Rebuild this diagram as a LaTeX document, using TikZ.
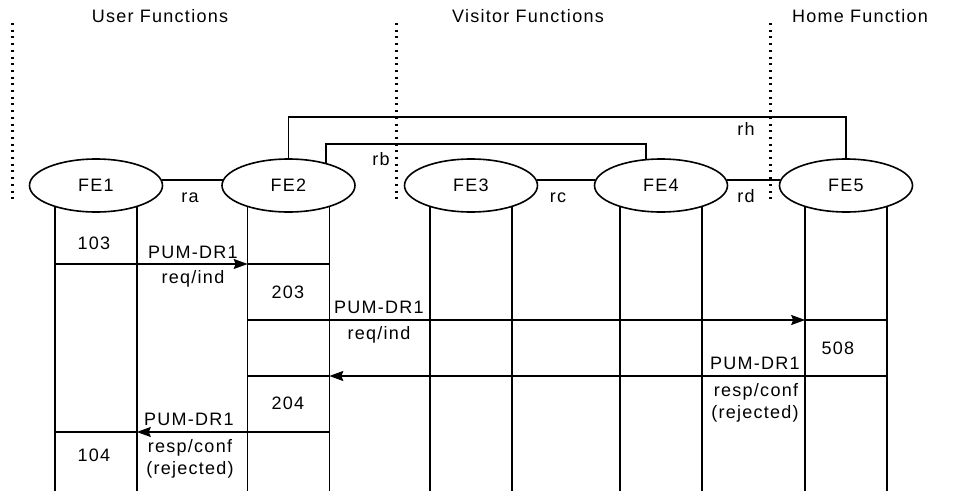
\documentclass[tikz,border=0pt]{standalone}
\usepackage{fontspec}
\setmainfont{Liberation Sans}[LetterSpace=7]
\usetikzlibrary{shapes.geometric,arrows.meta,calc}
\begin{document}
\begin{tikzpicture}[x=1pt,y=-1pt,line width=1.6pt,
  fe/.style={ellipse,draw,minimum width=133pt,minimum height=53pt,inner sep=0pt,fill=white,
    font=\fontsize{18}{21}\selectfont},
  lbl/.style={inner sep=0pt,anchor=base,font=\fontsize{18}{21}\selectfont},
  arr/.style={-{Stealth[length=14pt,width=10pt,inset=2pt]}},
  sepline/.style={line width=3pt,dash pattern=on 2pt off 4.7pt}]
\useasboundingbox (0,0) rectangle (954,491);
% separators
\draw[sepline] (12,23) -- (12,203);
\draw[sepline] (396,23) -- (396,203);
\draw[sepline] (770,23) -- (770,203);
% headings
\node[lbl] (hUser) at (160,22.7) {User Functions};
\node[lbl] (hVis) at (528,22.7) {Visitor Functions};
\node[lbl] (hHome) at (860,22.7) {Home Function};
% functional entities
\node[fe] (FE1) at (96,185.5) {FE1};
\node[fe] (FE2) at (288.5,185.5) {FE2};
\node[fe] (FE3) at (471,185.5) {FE3};
\node[fe] (FE4) at (661,185.5) {FE4};
\node[fe] (FE5) at (846,185.5) {FE5};
% helper coordinates
\coordinate (bot) at (0,491);
\coordinate (rhy) at (0,117);
\coordinate (rby) at (0,144);
\coordinate (m1) at (0,264);
\coordinate (m2) at (0,320);
\coordinate (m3) at (0,376);
\coordinate (m4) at (0,432);
% lifelines
\foreach \n in {FE1,FE2,FE3,FE4,FE5}{
  \draw (\n.208) -- (\n.208 |- bot);
  \draw (\n.332) -- (\n.332 |- bot);
}
% relationships
\draw (FE1.5) -- (FE2.175);
\draw (FE3.5) -- (FE4.175);
\draw (FE4.5) -- (FE5.175);
\draw (FE2.north) -- (FE2.north |- rhy) -- (FE5.north |- rhy) -- (FE5.north);
\draw (FE2.31) -- (FE2.31 |- rby) -- (FE4.119 |- rby) -- (FE4.119);
\node[lbl] (ra) at (190,202.5) {ra};
\node[lbl] (rb) at (381,165.7) {rb};
\node[lbl] (rc) at (558,202.3) {rc};
\node[lbl] (rd) at (746,202.3) {rd};
\node[lbl] (rh) at (746,135) {rh};
% messages
\draw[arr] (FE1.208 |- m1) -- (FE2.208 |- m1);
\draw (FE2.208 |- m1) -- (FE2.332 |- m1);
\draw[arr] (FE2.208 |- m2) -- (FE5.208 |- m2);
\draw (FE5.208 |- m2) -- (FE5.332 |- m2);
\draw[arr] (FE5.332 |- m3) -- (FE2.332 |- m3);
\draw (FE2.332 |- m3) -- (FE2.208 |- m3);
\draw[arr] (FE2.332 |- m4) -- (FE1.332 |- m4);
\draw (FE1.332 |- m4) -- (FE1.208 |- m4);
% box labels
\node[lbl] (n103) at (94,249.5) {103};
\node[lbl] (n203) at (288,298.5) {203};
\node[lbl] (n508) at (838,354) {508};
\node[lbl] (n204) at (288,409.5) {204};
\node[lbl] (n104) at (94,461.7) {104};
% message labels
\node[lbl] (p1a) at (193,258.3) {PUM-DR1};
\node[lbl] (p1b) at (193,283.3) {req/ind};
\node[lbl] (p2a) at (379,313.3) {PUM-DR1};
\node[lbl] (p2b) at (379,339.3) {req/ind};
\node[lbl] (p3a) at (755,369) {PUM-DR1};
\node[lbl] (p3b) at (756,396.7) {resp/conf};
\node[lbl] (p3c) at (755,418.3) {(rejected)};
\node[lbl] (p4a) at (189,425) {PUM-DR1};
\node[lbl] (p4b) at (190,452.7) {resp/conf};
\node[lbl] (p4c) at (190,474) {(rejected)};
\end{tikzpicture}
\end{document}
